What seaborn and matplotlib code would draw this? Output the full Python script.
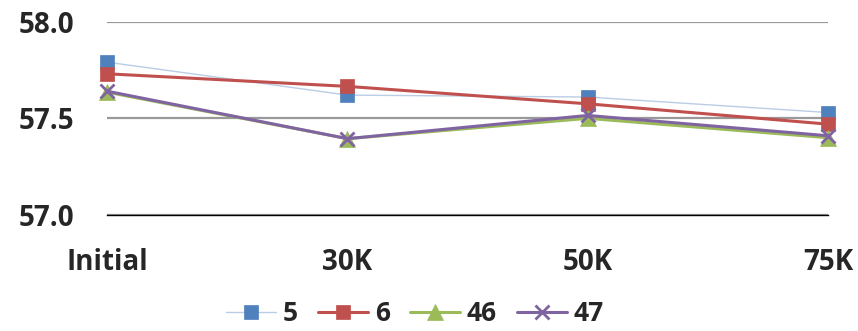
import numpy as np
import pandas as pd
import matplotlib
matplotlib.use('Agg')
import matplotlib.pyplot as plt
import seaborn as sns

# data
steps = ['Initial', '30K', '50K', '75K']
s5 = [57.79, 57.62, 57.61, 57.53]
s6 = [57.73, 57.665, 57.575, 57.47]
s46 = [57.635, 57.395, 57.50, 57.40]
s47 = [57.64, 57.395, 57.515, 57.41]

series = {'5': s5, '6': s6, '46': s46, '47': s47}
styles = {
    '5': dict(color='#B9CDE5', lw=1.0, marker='s', mfc='#4F81BD', mec='#4F81BD', ms=10),
    '6': dict(color='#C0504D', lw=2.2, marker='s', mfc='#C0504D', mec='#C0504D', ms=10),
    '46': dict(color='#9BBB59', lw=2.2, marker='^', mfc='#9BBB59', mec='#9BBB59', ms=11),
    '47': dict(color='#8064A2', lw=2.2, marker='x', mfc='#8064A2', mec='#8064A2', ms=10, mew=2),
}

df = pd.DataFrame([(k, steps[i], v) for k, vals in series.items() for i, v in enumerate(vals)],
                  columns=['series', 'step', 'value'])
df['pos'] = df['step'].map({s: i for i, s in enumerate(steps)})

sns.set_style('white')
plt.rcParams['font.family'] = ['Open Sans', 'DejaVu Sans']

fig = plt.figure(figsize=(8.58, 3.31), dpi=100)
ax = fig.add_axes([0.125, 0.35, 0.84, 0.585])

for name in series:
    sub = df[df['series'] == name]
    st = styles[name]
    sns.lineplot(data=sub, x='pos', y='value', ax=ax, label=name, color=st['color'],
                 linewidth=st['lw'], marker=st['marker'], markerfacecolor=st['mfc'],
                 markeredgecolor=st['mec'], markersize=st['ms'],
                 markeredgewidth=st.get('mew', 0.5), clip_on=False, zorder=3)

ax.set_xlim(0, 3)
ax.set_ylim(57.0, 58.0)
ax.set_yticks([57.0, 57.5, 58.0])
ax.set_yticklabels(['57.0', '57.5', '58.0'])
ax.set_xticks(range(len(steps)))
ax.set_xticklabels(steps)
ax.grid(axis='y', color='#999999', lw=1.6)
ax.grid(axis='x', visible=False)
for sp in ax.spines.values():
    sp.set_visible(False)
ax.spines['bottom'].set_visible(True)
ax.spines['bottom'].set_color('black')
ax.spines['bottom'].set_linewidth(1.0)
ax.spines['bottom'].set_zorder(2.5)
ax.set_xlabel('')
ax.set_ylabel('')
ax.tick_params(length=0, labelsize=20)
for lab in ax.get_xticklabels() + ax.get_yticklabels():
    lab.set_fontweight('bold')
ax.tick_params(axis='x', pad=24)
ax.tick_params(axis='y', pad=24)

leg = ax.legend(loc='center', bbox_to_anchor=(0.427, -0.51), ncol=4, frameon=False,
                prop={'weight': 'bold', 'size': 19}, handlelength=1.9,
                columnspacing=0.76, handletextpad=0.25)

fig.savefig('out.png', dpi=100)
